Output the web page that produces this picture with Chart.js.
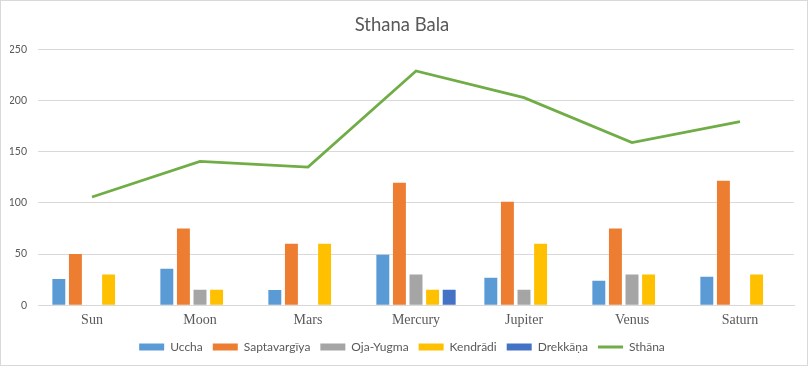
<!DOCTYPE html>
<html>
<head>
<meta charset="utf-8">
<script src="https://cdn.jsdelivr.net/npm/chart.js@4/dist/chart.umd.min.js"></script>
<style>
  html, body { margin: 0; padding: 0; background: #fff; }
  #wrap { position: relative; width: 808px; height: 366px; }
</style>
</head>
<body>
<div id="wrap"><canvas id="c" width="808" height="366"></canvas></div>
<script>
const categories = ["Sun", "Moon", "Mars", "Mercury", "Jupiter", "Venus", "Saturn"];
const uccha = [25.7, 35.5, 14.9, 49.2, 26.7, 23.8, 27.7];
const saptavargiya = [50, 75, 60, 119.5, 101, 75, 121.5];
const ojaYugma = [0, 15, 0, 30, 15, 30, 0];
const kendradi = [30, 15, 60, 15, 60, 30, 30];
const drekkana = [0, 0, 0, 15, 0, 0, 0];
const sthana = [105.7, 140.5, 134.9, 228.7, 202.7, 158.8, 179.2];
const yTicks = [0, 50, 100, 150, 200, 250];

const grey = '#595959';

const borderPlugin = {
  id: 'outerBorder',
  afterDraw(chart) {
    const ctx = chart.ctx;
    ctx.save();
    ctx.strokeStyle = '#D9D9D9';
    ctx.lineWidth = 1;
    ctx.strokeRect(0.5, 0.5, chart.width - 1, chart.height - 1);
    ctx.restore();
  }
};

function barDs(label, data, color) {
  return {
    type: 'bar', label, data,
    backgroundColor: color, borderColor: color, borderWidth: 0,
    categoryPercentage: 0.768, barPercentage: 0.78
  };
}

new Chart(document.getElementById('c'), {
  data: {
    labels: categories,
    datasets: [
      barDs('Uccha', uccha, '#5B9BD5'),
      barDs('Saptavargīya', saptavargiya, '#ED7D31'),
      barDs('Oja-Yugma', ojaYugma, '#A5A5A5'),
      barDs('Kendrādi', kendradi, '#FFC000'),
      barDs('Drekkāṇa', drekkana, '#4472C4'),
      {
        type: 'line', label: 'Sthāna', data: sthana,
        borderColor: '#70AD47', backgroundColor: '#70AD47',
        borderWidth: 2.75, pointRadius: 0, tension: 0, fill: false
      }
    ]
  },
  options: {
    responsive: false,
    animation: false,
    devicePixelRatio: 1,
    layout: { padding: { left: 10, right: 14, top: 0, bottom: 3 } },
    plugins: {
      tooltip: { enabled: false },
      title: {
        display: true,
        text: 'Sthana Bala',
        color: grey,
        font: { family: 'Lato', size: 18.5, weight: 'normal' },
        padding: { top: 14, bottom: 13 }
      },
      legend: {
        position: 'bottom',
        labels: {
          color: grey,
          font: { family: 'Lato', size: 12 },
          usePointStyle: true,
          pointStyleWidth: 25,
          boxHeight: 7,
          padding: 10,
          generateLabels(chart) {
            const items = Chart.defaults.plugins.legend.labels.generateLabels(chart);
            items.forEach(it => {
              const ds = chart.data.datasets[it.datasetIndex];
              if (ds.type === 'line') {
                it.pointStyle = 'line';
                it.lineWidth = 3;
                it.strokeStyle = '#70AD47';
              } else {
                it.pointStyle = 'rect';
                it.lineWidth = 0;
              }
            });
            return items;
          }
        }
      }
    },
    scales: {
      x: {
        afterFit(scale) { scale.height -= 5; },
        grid: { display: false, drawTicks: false },
        border: { display: true, color: '#D9D9D9', width: 1 },
        ticks: {
          color: grey,
          padding: 7,
          font: { family: 'Liberation Serif', size: 14 }
        }
      },
      y: {
        min: 0, max: 250,
        afterBuildTicks(scale) { scale.ticks = yTicks.map(v => ({ value: v })); },
        afterFit(scale) { scale.width = 28; },
        grid: { color: '#D9D9D9', drawTicks: false },
        border: { display: false },
        ticks: {
          color: grey,
          padding: 11,
          font: { family: 'Lato', size: 10.5 }
        }
      }
    }
  },
  plugins: [borderPlugin]
});
</script>
</body>
</html>
